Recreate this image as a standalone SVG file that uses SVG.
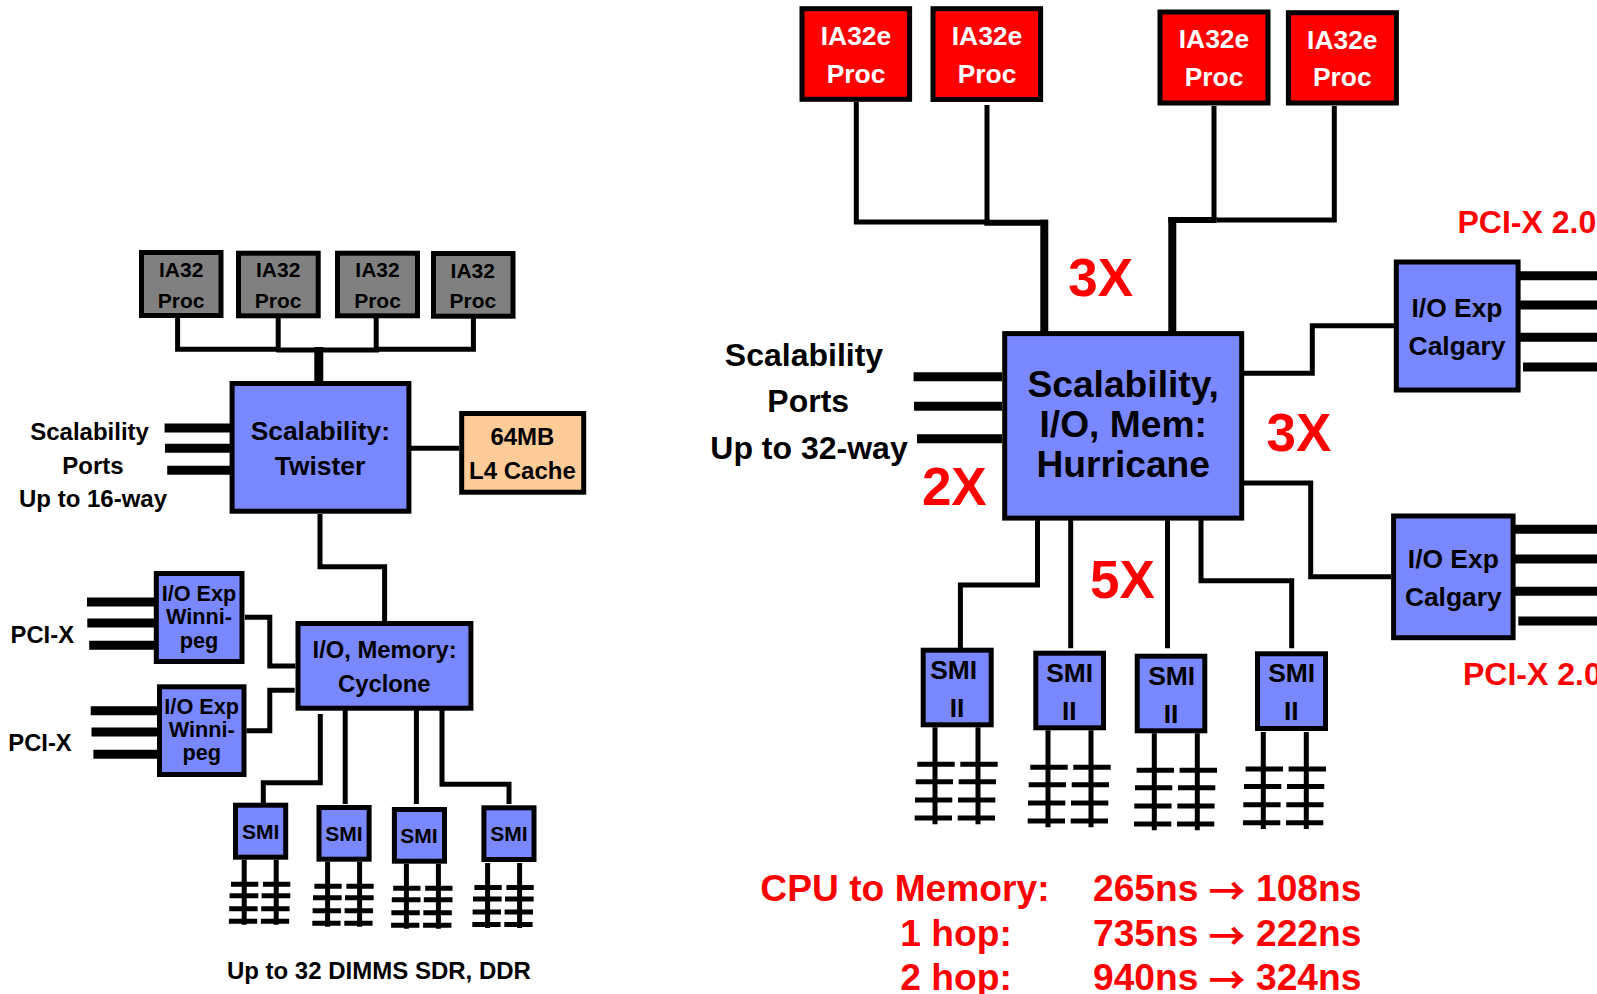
<svg xmlns="http://www.w3.org/2000/svg" width="1597" height="994" viewBox="0 0 1597 994">
<style>
text{font-family:"Liberation Sans",Arial,sans-serif;font-weight:bold;fill:#000;text-anchor:middle}
.box{stroke:#000;stroke-width:5}
.gray{fill:#808080}.blue{fill:#7A88FF}.red{fill:#F00}.cache{fill:#FFCC99}
.w{stroke:#000;stroke-width:5;fill:none}
.p{stroke:#000;stroke-width:9;fill:none}
.th{stroke:#000;stroke-width:6;fill:none}
.tv{stroke:#000;stroke-width:8;fill:none}
.rt{fill:#F00}
.s{text-anchor:start}
.f21{font-size:21px}.f24{font-size:24px}.f215{font-size:21.7px}.f235{font-size:23.8px}.f26{font-size:26.4px}.f32{font-size:32px}.f36{font-size:37.2px}.f37{font-size:37.2px}.f52{font-size:53px}
.wt{fill:#FFF}
.ar{font-family:"Noto Sans CJK SC",sans-serif;font-size:37px}
</style>
<defs>
<g id="dimm-small" class="w">
<path d="M0 0V65M32 0V65M-13.2 24.6H14.1M-14.6 36H14.1M-15 49H13.4M-15.3 61.6H13M18.8 24.6H46.1M17.4 36H46.1M17 49H45.4M16.7 61.6H45"/>
</g>
<g id="dimm-large" class="w">
<path d="M0 0V97M43 0V97M-17.7 37H19.7M-19.3 54.4H18M-20 72.7H17.3M-20.3 90.7H17M25.3 37H62.7M23.7 54.4H61M23 72.7H60.3M22.7 90.7H60"/>
</g>
</defs>
<g id="connectors">
<path class="w" d="M177.6 318V349.3H276.3M278.2 318V350M376.2 318V350M473.4 318V349.3H376M276.3 350H379"/>
<path class="tv" style="stroke-width:9" d="M318.8 347V381"/>
<path class="p" d="M164.6 428H230M165 448.3H230M167.2 470.3H230"/>
<path class="w" d="M411 448.3H459M320 514V566.7H384.6V621"/>
<path class="p" d="M87 602H154M87.3 623H154M89.2 645.3H154M90.7 710.7H157M91.5 732H157M93.4 754.3H157"/>
<path class="w" d="M245 617.3H269.8V666H295.4M246.5 730.7H269.8V690.3H294.7"/>
<path class="w" d="M320.3 714V782.7H263.3V803M345.2 710V804M416.4 710V804M442 710V784.3H509V804"/>
<use href="#dimm-small" x="244.2" y="859.7"/>
<use href="#dimm-small" x="327.6" y="861.7"/>
<use href="#dimm-small" x="406.4" y="863.7"/>
<use href="#dimm-small" x="487.6" y="863"/>
<path class="w" d="M856.3 102V222H986.7M987 105V222M1214 106V220M1334.3 106V220H1216.7"/>
<path class="th" d="M984.3 222.7H1048M1216.7 220H1168.3"/>
<path class="tv" d="M1044.3 219.7V332M1172.3 217V332"/>
<path class="p" d="M913.6 376.7H1002M914 406.3H1002M917 438.7H1002"/>
<path class="w" d="M1037.5 520V585H960.4V648M1070.7 520V648.3M1167.5 520V648.3M1201 520V580.7H1291.7V648.3"/>
<path class="w" d="M1244 373.3H1312.3V325.7H1394M1244 483H1310.7V576.7H1391"/>
<path class="p" d="M1520 275.7H1597M1520 305H1597M1520 337.3H1597M1523 367H1597M1515 529.3H1597M1515 559H1597M1515 591.3H1597M1518.3 621H1597"/>
<use href="#dimm-large" x="935" y="727.3"/>
<use href="#dimm-large" x="1048" y="730.3"/>
<use href="#dimm-large" x="1154.3" y="733.3"/>
<use href="#dimm-large" x="1263.3" y="732"/>
</g>
<g id="ia32-1"><rect class="box gray" x="141.5" y="252.5" width="79.5" height="63"/><text class="f21" x="181.2" y="277">IA32</text><text class="f21" x="181.2" y="308">Proc</text></g>
<g id="ia32-2"><rect class="box gray" x="238.5" y="253.2" width="79.7" height="62.6"/><text class="f21" x="278.2" y="277">IA32</text><text class="f21" x="278.2" y="308">Proc</text></g>
<g id="ia32-3"><rect class="box gray" x="337.5" y="253.2" width="80" height="62.6"/><text class="f21" x="377.5" y="277">IA32</text><text class="f21" x="377.5" y="308">Proc</text></g>
<g id="ia32-4"><rect class="box gray" x="433.5" y="253.5" width="79.5" height="62.7"/><text class="f21" x="472.8" y="278">IA32</text><text class="f21" x="472.8" y="308">Proc</text></g>
<g id="twister"><rect class="box blue" x="232.1" y="383.5" width="176.8" height="127.7"/><text class="f26" x="320.3" y="440">Scalability:</text><text class="f26" x="320" y="475">Twister</text></g>
<g id="l4-cache"><rect class="box cache" x="461.7" y="413.5" width="122" height="78.7"/><text class="f24" x="522.4" y="445">64MB</text><text class="f24" x="522.4" y="478.7">L4 Cache</text></g>
<g id="twister-ports-label"><text class="f24" x="89.6" y="439.5">Scalability</text><text class="f24" x="93" y="473.5">Ports</text><text class="f24" x="93" y="507.3">Up to 16-way</text></g>
<g id="winnipeg-1"><rect class="box blue" x="156.3" y="573.5" width="85.7" height="88"/><text class="f215" x="199" y="601.3">I/O Exp</text><text class="f215" x="199" y="624">Winni-</text><text class="f215" x="199" y="648">peg</text></g>
<g id="winnipeg-2"><rect class="box blue" x="159.5" y="686.8" width="84.5" height="87.7"/><text class="f215" x="201.7" y="714.3">I/O Exp</text><text class="f215" x="201.7" y="736.7">Winni-</text><text class="f215" x="201.7" y="759.5">peg</text></g>
<g id="pci-x-1"><text class="f235" x="42.3" y="643">PCI-X</text></g>
<g id="pci-x-2"><text class="f235" x="40" y="751">PCI-X</text></g>
<g id="cyclone"><rect class="box blue" x="298" y="623.5" width="172.9" height="84.7"/><text class="f235" x="384.6" y="658.3">I/O, Memory:</text><text class="f235" x="384.3" y="691.7">Cyclone</text></g>
<g id="smi-1"><rect class="box blue" x="235.5" y="805.2" width="50.2" height="52"/><text class="f21" x="260.6" y="839">SMI</text></g>
<g id="smi-2"><rect class="box blue" x="319" y="807.5" width="50.1" height="51.7"/><text class="f21" x="343.9" y="841.3">SMI</text></g>
<g id="smi-3"><rect class="box blue" x="394.4" y="809.5" width="50.1" height="51.7"/><text class="f21" x="419" y="843.3">SMI</text></g>
<g id="smi-4"><rect class="box blue" x="483.9" y="807.8" width="50.1" height="51.7"/><text class="f21" x="508.8" y="841">SMI</text></g>
<g id="dimm-note"><text class="f24" x="378.9" y="979">Up to 32 DIMMS SDR, DDR</text></g>
<g id="ia32e-1"><rect class="box red" x="802" y="8.7" width="107.6" height="90.6"/><text class="f26 wt" x="856" y="45">IA32e</text><text class="f26 wt" x="856" y="82.5">Proc</text></g>
<g id="ia32e-2"><rect class="box red" x="933" y="8.7" width="107.6" height="90.8"/><text class="f26 wt" x="987" y="45">IA32e</text><text class="f26 wt" x="987" y="82.5">Proc</text></g>
<g id="ia32e-3"><rect class="box red" x="1160" y="12" width="108" height="91"/><text class="f26 wt" x="1214" y="48.3">IA32e</text><text class="f26 wt" x="1214" y="86">Proc</text></g>
<g id="ia32e-4"><rect class="box red" x="1288.4" y="12.7" width="108" height="90.3"/><text class="f26 wt" x="1342.3" y="49">IA32e</text><text class="f26 wt" x="1342.3" y="86">Proc</text></g>
<g id="hurricane"><rect class="box blue" x="1004.7" y="333.6" width="237" height="184.5"/><text class="f36" x="1123.2" y="397">Scalability,</text><text class="f36" x="1123.2" y="436.7">I/O, Mem:</text><text class="f36" x="1123.2" y="477">Hurricane</text></g>
<g id="hurricane-ports-label"><text class="f32" x="804" y="366">Scalability</text><text class="f32" x="808.2" y="411.7">Ports</text><text class="f32" x="809" y="458.5">Up to 32-way</text></g>
<g id="factor-labels"><text class="f52 rt" x="1100.7" y="296.2">3X</text><text class="f52 rt" x="1299" y="451.4">3X</text><text class="f52 rt" x="954.3" y="505">2X</text><text class="f52 rt" x="1122.5" y="598.3">5X</text></g>
<g id="calgary-1"><rect class="box blue" x="1396.3" y="262" width="121.8" height="128"/><text class="f26" x="1457" y="316.7">I/O Exp</text><text class="f26" x="1457" y="355">Calgary</text></g>
<g id="calgary-2"><rect class="box blue" x="1393.6" y="516" width="119.5" height="121.7"/><text class="f26" x="1453.3" y="567.7">I/O Exp</text><text class="f26" x="1453.3" y="606">Calgary</text></g>
<g id="pci-x-20"><text class="rt s" style="font-size:32px" x="1457.5" y="232.7">PCI-X 2.0</text><text class="rt s" style="font-size:32px" x="1463" y="685.3">PCI-X 2.0</text></g>
<g id="smi2-1"><rect class="box blue" x="923.2" y="650.2" width="68" height="74.6"/><text class="f26" x="953.7" y="679">SMI</text><text class="f26" x="957" y="717">II</text></g>
<g id="smi2-2"><rect class="box blue" x="1035.8" y="653.2" width="67.7" height="74.6"/><text class="f26" x="1069.7" y="682">SMI</text><text class="f26" x="1069.3" y="720">II</text></g>
<g id="smi2-3"><rect class="box blue" x="1137.2" y="656.2" width="67.6" height="74.6"/><text class="f26" x="1171.7" y="685">SMI</text><text class="f26" x="1171" y="723">II</text></g>
<g id="smi2-4"><rect class="box blue" x="1257.5" y="653.8" width="68" height="74.7"/><text class="f26" x="1291.7" y="682">SMI</text><text class="f26" x="1291.3" y="720">II</text></g>
<g id="latency">
<text class="f37 rt" x="905" y="901">CPU to Memory:</text><text class="f37 rt s" x="1093" y="901">265ns</text><text class="ar rt" x="1227" y="905">→</text><text class="f37 rt s" x="1256" y="901">108ns</text>
<text class="f37 rt" x="956" y="945.7">1 hop:</text><text class="f37 rt s" x="1093" y="945.7">735ns</text><text class="ar rt" x="1227" y="949.7">→</text><text class="f37 rt s" x="1256" y="945.7">222ns</text>
<text class="f37 rt" x="956" y="990">2 hop:</text><text class="f37 rt s" x="1093" y="990">940ns</text><text class="ar rt" x="1227" y="994">→</text><text class="f37 rt s" x="1256" y="990">324ns</text>
</g>
</svg>
